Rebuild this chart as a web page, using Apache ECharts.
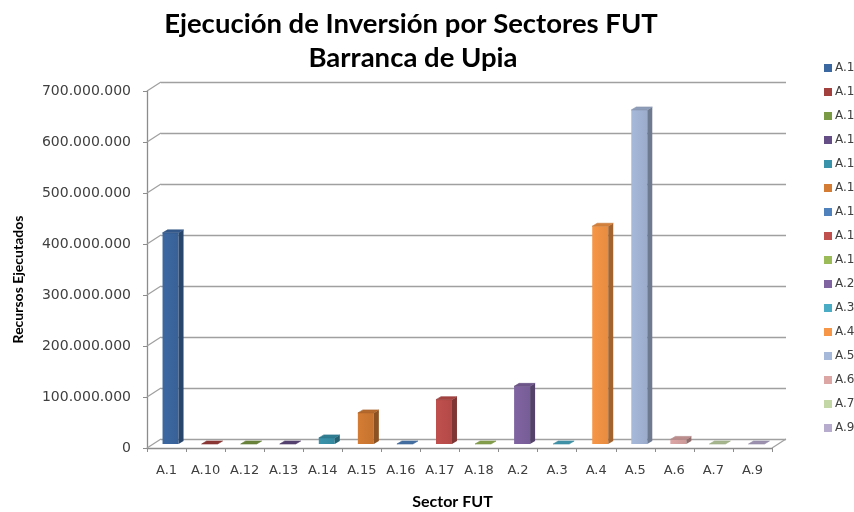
<!DOCTYPE html>
<html>
<head>
<meta charset="utf-8">
<script src="https://cdn.jsdelivr.net/npm/echarts@6/dist/echarts.min.js"></script>
<style>
  html, body { margin: 0; padding: 0; background: #fff; }
  #chart { width: 854px; height: 512px; }
</style>
</head>
<body>
<div id="chart"></div>
<script>
// sectores FUT y recursos ejecutados (pesos)
const categories = ['A.1', 'A.10', 'A.12', 'A.13', 'A.14', 'A.15', 'A.16', 'A.17', 'A.18',
                    'A.2', 'A.3', 'A.4', 'A.5', 'A.6', 'A.7', 'A.9'];
const values = [414000000, 0, 0, 0, 12000000, 61000000, 0, 87000000, 0,
                113000000, 0, 427000000, 655000000, 9000000, 0, 0];
const yTicks = [0, 100000000, 200000000, 300000000, 400000000, 500000000, 600000000, 700000000];

// excel 2007 "vary colors" palette: shaded, base, tinted
const palette = ['#3C68A2', '#A2403D', '#7B9A45', '#654E85', '#3993AB', '#D47C34',
                 '#4F81BD', '#C0504D', '#9BBB59', '#8064A2', '#4BACC6', '#F79646',
                 '#A7B9DA', '#DCA6A5', '#C3D6A6', '#B7ABCE'];

const DEPTH = [14, -9];   // back wall offset
const BAR_OFF = [4, -4];  // bars sit mid-depth
const BAR_W = 16;
const SIDE = [5, -3];

function shade(hex, k) {
  const n = parseInt(hex.slice(1), 16);
  const r = Math.round(((n >> 16) & 255) * k);
  const g = Math.round(((n >> 8) & 255) * k);
  const b = Math.round((n & 255) * k);
  return 'rgb(' + r + ',' + g + ',' + b + ')';
}

function fmt(v) {
  return String(v).replace(/\B(?=(\d{3})+(?!\d))/g, '.');
}

function renderBar(params, api) {
  const idx = api.value(0);
  const top = api.coord([idx, api.value(1)]);
  const base = api.coord([idx, 0]);
  const col = api.visual('color');
  const x0 = top[0] - BAR_W / 2 + BAR_OFF[0];
  const x1 = x0 + BAR_W;
  const y0 = top[1] + BAR_OFF[1];
  const y1 = base[1] + BAR_OFF[1];
  return {
    type: 'group',
    children: [
      {
        type: 'rect',
        shape: { x: x0, y: y0, width: BAR_W, height: y1 - y0 },
        style: {
          fill: new echarts.graphic.LinearGradient(0, 0, 1, 0, [
            { offset: 0, color: col },
            { offset: 1, color: shade(col, 0.93) }
          ])
        }
      },
      {
        type: 'polygon',
        shape: { points: [[x1, y0], [x1 + SIDE[0], y0 + SIDE[1]], [x1 + SIDE[0], y1 + SIDE[1]], [x1, y1]] },
        style: { fill: shade(col, 0.66) }
      },
      {
        type: 'polygon',
        shape: { points: [[x0, y0], [x0 + SIDE[0], y0 + SIDE[1]], [x1 + SIDE[0], y0 + SIDE[1]], [x1, y0]] },
        style: { fill: shade(col, 0.85), stroke: shade(col, 0.8), lineWidth: 0.6 }
      }
    ]
  };
}

function renderWall(params, api) {
  const v = api.value(0);
  const band = api.size([1, 0])[0];
  const p = api.coord([0, v]);
  const left = p[0] - band / 2;
  const lines = [{
    type: 'line',
    shape: { x1: left, y1: p[1], x2: left + DEPTH[0], y2: p[1] + DEPTH[1] },
    style: { stroke: '#a0a0a0', lineWidth: 1.3 }
  }];
  if (v === 0) {
    const q = api.coord([categories.length - 1, 0]);
    const right = q[0] + band / 2;
    lines.push({
      type: 'line',
      shape: { x1: right, y1: q[1], x2: right + DEPTH[0], y2: q[1] + DEPTH[1] },
      style: { stroke: '#a0a0a0', lineWidth: 1.3 }
    });
  }
  return { type: 'group', children: lines };
}

const barSeries = categories.map((c, i) => ({
  name: c,
  type: 'custom',
  xAxisIndex: 0,
  yAxisIndex: 0,
  z: 5,
  itemStyle: { color: palette[i] },
  renderItem: renderBar,
  encode: { x: 0, y: 1 },
  data: [[i, values[i]]]
}));

const titleStyle = { fontFamily: 'Lato', fontWeight: 'bold', fontSize: 27.5, color: '#000' };

const chart = echarts.init(document.getElementById('chart'), null, { renderer: 'canvas' });
chart.setOption({
  animation: false,
  backgroundColor: '#fff',
  title: [
    { text: 'Ejecución de Inversión por Sectores FUT', left: 406, top: 5, textAlign: 'center', textStyle: titleStyle },
    { text: 'Barranca de Upia', left: 408, top: 39, textAlign: 'center', textStyle: titleStyle }
  ],
  legend: {
    orient: 'vertical',
    left: 819,
    top: 57,
    itemWidth: 8,
    itemHeight: 8,
    itemGap: 12,
    icon: 'rect',
    data: categories,
    formatter: name => name.slice(0, 3),
    textStyle: { fontFamily: 'DejaVu Sans', fontSize: 12, color: '#404040', padding: [0, 0, 0, -2] }
  },
  grid: [
    { left: 147, top: 91, width: 625, height: 357, outerBoundsMode: 'none' },
    { left: 147 + DEPTH[0], top: 91 + DEPTH[1], width: 625, height: 357, outerBoundsMode: 'none' }
  ],
  xAxis: [
    {
      type: 'category',
      gridIndex: 0,
      data: categories,
      name: 'Sector FUT',
      nameLocation: 'middle',
      nameGap: 46,
      nameTextStyle: { fontFamily: 'Lato', fontWeight: 'bold', fontSize: 16, color: '#000', padding: [0, 14, 0, 0] },
      axisLine: { lineStyle: { color: '#8c8c8c', width: 1.3 } },
      axisTick: { show: true, length: 4, lineStyle: { color: '#8c8c8c' } },
      axisLabel: { margin: 16, fontFamily: 'DejaVu Sans', fontSize: 13, color: '#404040' },
      splitLine: { show: false }
    },
    {
      type: 'category',
      gridIndex: 1,
      data: categories,
      show: false
    }
  ],
  yAxis: [
    {
      type: 'value',
      gridIndex: 0,
      min: 0,
      max: 700000000,
      interval: 100000000,
      name: 'Recursos Ejecutados',
      nameLocation: 'middle',
      nameGap: 122,
      nameTextStyle: { fontFamily: 'Lato', fontWeight: 'bold', fontSize: 14, color: '#000', padding: [0, 0, 0, -20] },
      axisLine: { show: true, lineStyle: { color: '#8c8c8c', width: 1.3 } },
      axisTick: { show: true, length: 4, lineStyle: { color: '#8c8c8c' } },
      axisLabel: { margin: 16, formatter: fmt, fontFamily: 'DejaVu Sans', fontSize: 14, color: '#404040' },
      splitLine: { show: false }
    },
    {
      type: 'value',
      gridIndex: 1,
      min: 0,
      max: 700000000,
      interval: 100000000,
      axisLine: { show: false },
      axisTick: { show: false },
      axisLabel: { show: false },
      splitLine: { show: true, lineStyle: { color: '#a0a0a0', width: 1.3 } }
    }
  ],
  series: [
    {
      name: 'wall',
      type: 'custom',
      xAxisIndex: 0,
      yAxisIndex: 0,
      z: 1,
      silent: true,
      renderItem: renderWall,
      encode: { y: 0 },
      data: yTicks.map(v => [v])
    }
  ].concat(barSeries)
});
</script>
</body>
</html>
